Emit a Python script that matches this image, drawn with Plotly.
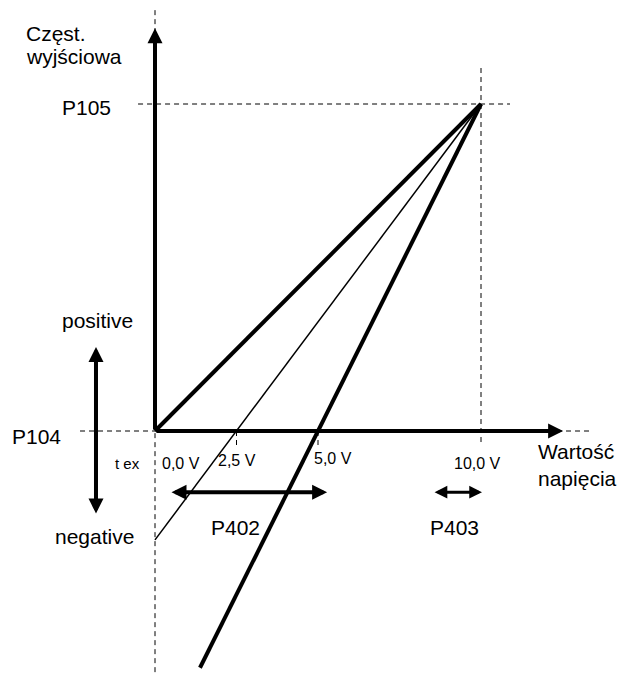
import plotly.graph_objects as go

# voltage input (V) on x, output frequency on y (P104 = 0, P105 = 10)
tick_volts = [0, 2.5, 5, 10]
tick_labels = ["0,0 V", "2,5 V", "5,0 V", "10,0 V"]
p104 = 0
p105 = 10
v_max = 10

# three characteristic lines, all meet at (10 V, P105)
line_v = [[0, 10], [0, 10], [1.38, 10]]
line_f = [[0, 10], [-3.33, 10], [-7.24, 10]]
line_w = [4, 1.5, 4]

# arrows (P402 span, P403 span, positive/negative)
p402_span = [0.46, 5.28]
p403_span = [8.53, 10.03]
sign_span = [2.57, -2.57]

sx, sy = 32.6, 32.7
W, H = 617, 673
x0, y0 = 155, 431

fig = go.Figure()

for v, f, w in zip(line_v, line_f, line_w):
    fig.add_trace(go.Scatter(x=v, y=f, mode="lines",
                             line=dict(color="black", width=w),
                             hoverinfo="skip", showlegend=False))

dash = dict(color="black", width=1, dash="5px,4px")
shapes = [
    dict(type="line", x0=0, x1=0, y0=12.87, y1=-7.5, line=dash),
    dict(type="line", x0=-2.3, x1=13.34, y0=p104, y1=p104, line=dash),
    dict(type="line", x0=-0.52, x1=10.89, y0=p105, y1=p105, line=dash),
    dict(type="line", x0=v_max, x1=v_max, y0=11.1, y1=-0.43, line=dash),
]
for v in tick_volts[1:3]:
    shapes.append(dict(type="line", x0=v, x1=v, y0=p104, y1=-0.43, line=dash))
for s in shapes:
    s.update(xref="x", yref="y", layer="below")

ann = []
def arrow(xt, yt, xa, ya, w=4, size=0.75, both=False):
    d = dict(x=xt, y=yt, ax=xa, ay=ya, xref="x", yref="y", axref="x", ayref="y",
             text="", showarrow=True, arrowhead=2, arrowsize=size, arrowwidth=w,
             arrowcolor="black")
    if both:
        d.update(arrowside="end+start", startarrowhead=2, startarrowsize=size)
    ann.append(d)

# axes
arrow(0, 12.32, 0, p104)
arrow(12.52, p104, 0, p104)
# spans
arrow(-1.81, sign_span[0], -1.81, sign_span[1], both=True)
arrow(p402_span[1], -1.87, p402_span[0], -1.87, both=True)
arrow(p403_span[1], -1.87, p403_span[0], -1.87, w=3, size=0.85, both=True)

def txt(t, x, y, size=21, xanchor="center"):
    ann.append(dict(x=x, y=y, xref="x", yref="y", text=t, showarrow=False,
                    xanchor=xanchor, yanchor="middle",
                    font=dict(family="Liberation Sans", size=size, color="black")))

txt("Częst.", -4.02, 12.17, xanchor="left")
txt("wyjściowa", -4.02, 11.44, xanchor="left")
txt("P105", -2.09, 9.88)
txt("P104", -3.62, -0.18)
txt("positive", -1.76, 3.39)
txt("negative", -1.87, -3.24)
txt("t ex", -0.84, -0.98, size=15)
for v, lab, dy in zip(tick_volts, tick_labels, [-0.98, -0.89, -0.83, -0.98]):
    dx = {0: 0.8, 2.5: 0.02, 5: 0.46, 10: -0.12}[v]
    txt(lab, v + dx, dy, size=16)
txt("Wartość", 11.69, -0.64, xanchor="left")
txt("napięcia", 11.69, -1.44, xanchor="left")
txt("P402", 2.48, -2.94)
txt("P403", 9.2, -2.94)

fig.update_layout(
    width=W, height=H,
    margin=dict(l=0, r=0, t=0, b=0),
    paper_bgcolor="white", plot_bgcolor="white",
    xaxis=dict(range=[-x0 / sx, (W - x0) / sx], visible=False, fixedrange=True),
    yaxis=dict(range=[(y0 - H) / sy, y0 / sy], visible=False, fixedrange=True),
    shapes=shapes, annotations=ann,
)

fig.write_html("out.html", config={"displayModeBar": False},
               post_script="document.body.style.margin='0';")
